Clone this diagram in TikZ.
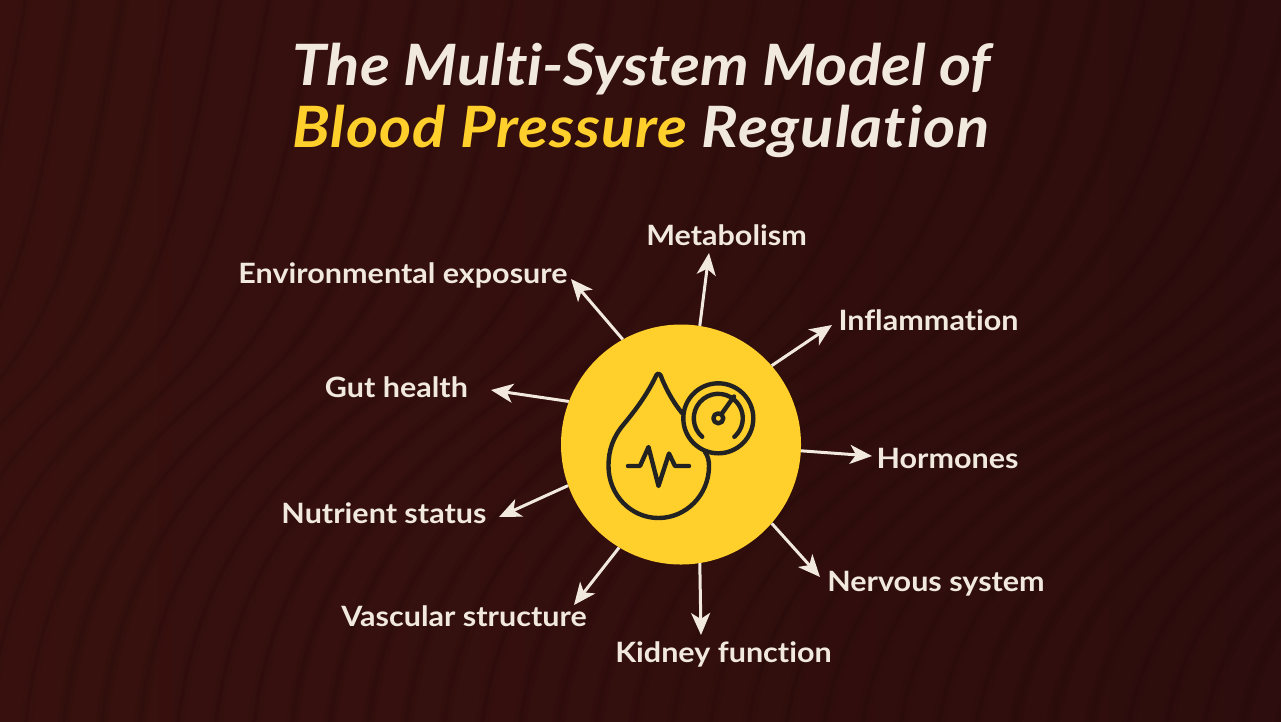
\documentclass[tikz,border=0pt]{standalone}
\usepackage{fontspec}
\setmainfont{Lato}[Ligatures=NoCommon]
\newfontfamily\labfont{Lato}[Ligatures=NoCommon,FakeStretch=1.09]
\newfontfamily\ttlfont{Lato}[Ligatures=NoCommon,FakeStretch=1.08]
\newfontfamily\ttlfontb{Lato}[Ligatures=NoCommon,FakeStretch=1.08,LetterSpace=1.7]
\usetikzlibrary{arrows.meta}
\definecolor{bgl}{HTML}{38110E}
\definecolor{bgr}{HTML}{2D0D0D}
\definecolor{wavec}{HTML}{1E0606}
\definecolor{creamc}{HTML}{F1E9DD}
\definecolor{yelc}{HTML}{FFCF2B}
\definecolor{inkc}{HTML}{222222}
\tikzset{
 lab/.style={text=creamc,font=\labfont\fontsize{28}{32}\selectfont\bfseries,inner sep=0pt,anchor=base},
 ttl/.style={font=\ttlfont\fontsize{57}{60}\selectfont\bfseries\itshape,inner sep=0pt,anchor=base,text=creamc},
 ttlb/.style={ttl,font=\ttlfontb\fontsize{57}{60}\selectfont\bfseries\itshape},
 arr/.style={draw=creamc,line width=3pt,-{Stealth[length=22pt,width=19pt,inset=6pt]}},
 ico/.style={draw=inkc,line width=4.4pt,line cap=round,line join=round},
 wave/.style={draw=wavec,line width=13pt,opacity=.09},
 wavein/.style={draw=wavec,line width=4pt,opacity=.14},
}
\begin{document}
\begin{tikzpicture}[x=1pt,y=-1pt]
\useasboundingbox (0,0) rectangle (1281,721);
\shade[left color=bgl,right color=bgr] (-3,-3) rectangle (1284,724);
\begin{scope}
\clip (-3,-3) rectangle (1284,724);
\foreach \b in {-700,-662,...,1400}{
 \pgfmathsetmacro{\t}{\b+260+0.28*(\b+300)}
 \pgfmathsetmacro{\amp}{50+0.09*(\b+700)}
 \pgfmathsetmacro{\ca}{\b+10}
 \pgfmathsetmacro{\cc}{\b+0.5*(\t-\b)}
 \pgfmathsetmacro{\cb}{\cc-1.2*\amp}
 \pgfmathsetmacro{\cd}{\cc+\amp}
 \pgfmathsetmacro{\ce}{\t-40}
 \draw[wave] (\b,760) .. controls (\ca,640) and (\cb,520) .. (\cc,400)
   .. controls (\cd,300) and (\ce,170) .. (\t,-30);
 \draw[wavein] (\b,760) .. controls (\ca,640) and (\cb,520) .. (\cc,400)
   .. controls (\cd,300) and (\ce,170) .. (\t,-30);
}
\end{scope}
\node[ttl] (t1) at (642,85) {The Multi-System Model of};
\node[ttlb] (t2) at (641,147) {\textcolor{yelc}{Blood Pressure} Regulation};
\node[circle,fill=yelc,minimum size=240pt,inner sep=0pt] (hub) at (681,444.5) {};
\node[lab] (l1) at (403,283) {Environmental exposure};
\node[lab] (l2) at (726.5,245) {Metabolism};
\node[lab] (l3) at (928.5,330) {Inflammation};
\node[lab] (l4) at (947.5,468) {Hormones};
\node[lab] (l5) at (936,591) {Nervous system};
\node[lab] (l6) at (723.5,662) {Kidney function};
\node[lab] (l7) at (464,626) {Vascular structure};
\node[lab] (l8) at (384,523) {Nutrient status};
\node[lab] (l9) at (396.5,397) {Gut health};
\coordinate (a1) at (571,279);
\coordinate (a2) at (709,253);
\coordinate (a3) at (832,325);
\coordinate (a4) at (872,456);
\coordinate (a5) at (820,577);
\coordinate (a6) at (701,635);
\coordinate (a7) at (574,605);
\coordinate (a8) at (499,517);
\coordinate (a9) at (491,390);
\draw[arr] (hub.119.5) -- (a1);
\draw[arr] (hub.81.5) -- (a2);
\draw[arr] (hub.41.5) -- (a3);
\draw[arr] (hub.-3.3) -- (a4);
\draw[arr] (hub.-41.6) -- (a5);
\draw[arr] (hub.-81.5) -- (a6);
\draw[arr] (hub.-121.3) -- (a7);
\draw[arr] (hub.-160) -- (a8);
\draw[arr] (hub.159.4) -- (a9);
% drop
\draw[ico] (682,413) .. controls (674,403) and (668,393) .. (662,379)
  .. controls (660,372) and (657,372) .. (655,378)
  .. controls (647,394) and (638,407) .. (624,424)
  .. controls (613,437) and (608.5,450) .. (608.5,466)
  .. controls (608.5,495) and (631,518) .. (658.5,518)
  .. controls (686,518) and (709,495) .. (709,466)
  .. controls (709,461) and (708,456) .. (705,452);
\draw[ico] (628,466) -- (640,466) -- (648.5,447) -- (658.5,486) -- (669,453.5) -- (675,466) -- (689,466);
% gauge
\draw[ico] (718.3,418.3) circle (35);
\draw[ico] (702.2,436.8) arc[start angle=131,end angle=409,radius=24.5];
\draw[ico] (718.3,418.3) circle (5);
\draw[ico] (721.5,414) -- (734,396.5);
\end{tikzpicture}
\end{document}
